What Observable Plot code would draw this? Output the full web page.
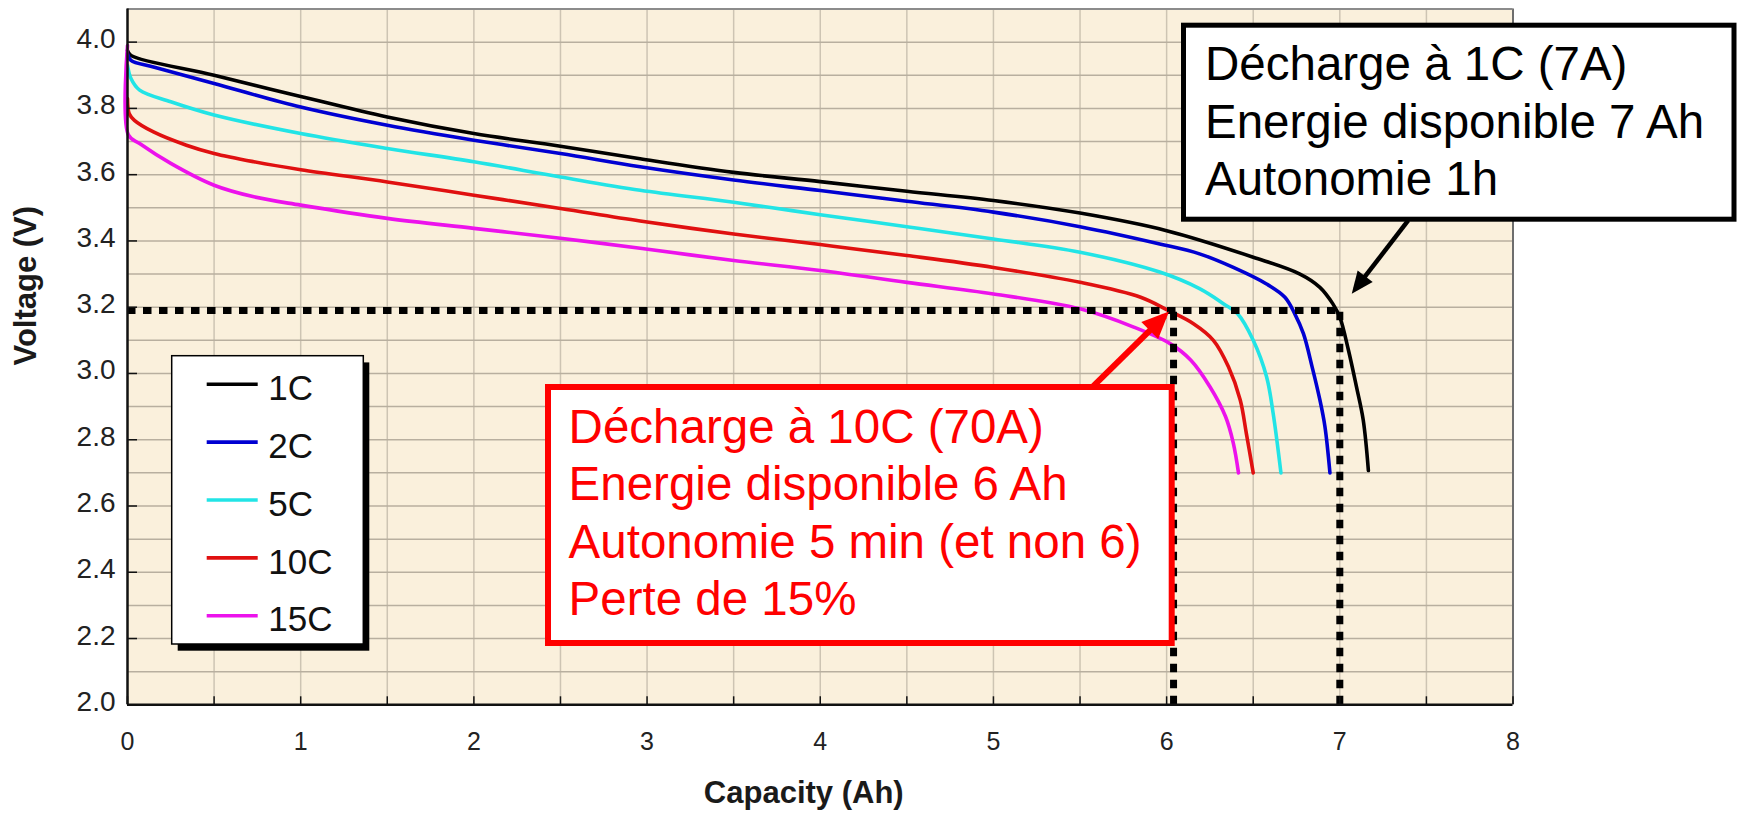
<!DOCTYPE html>
<html>
<head>
<meta charset="utf-8">
<script src="https://cdn.jsdelivr.net/npm/d3@7"></script>
<script src="https://cdn.jsdelivr.net/npm/@observablehq/plot@0.6"></script>
<style>
  html, body { margin: 0; padding: 0; background: #ffffff; }
  #wrap { position: relative; width: 1738px; height: 822px; overflow: hidden; font-family: "Liberation Sans", Arial, sans-serif; }
  #wrap svg.overlay { position: absolute; left: 0; top: 0; pointer-events: none; }
</style>
</head>
<body>
<div id="wrap"></div>
<script>
// ---------- DATA ----------
const seriesNames  = ["1C", "2C", "5C", "10C", "15C"];
const seriesColors = ["#000000", "#0000d2", "#22e4e6", "#e01010", "#ec12ec"];

const cap1C  = [0, 0.02, 0.5, 1.0, 1.5, 2.0, 2.5, 2.96, 3.5, 4.0, 4.5, 5.0, 5.5, 6.0, 6.5, 6.77, 6.885, 6.96, 7.0, 7.05, 7.096, 7.135, 7.165];
const volt1C = [3.975, 3.96, 3.90, 3.836, 3.774, 3.724, 3.686, 3.648, 3.607, 3.579, 3.55, 3.522, 3.484, 3.431, 3.351, 3.30, 3.26, 3.21, 3.17, 3.07, 2.96, 2.86, 2.707];

const cap2C  = [0, 0.02, 0.15, 0.5, 1.0, 1.5, 2.0, 2.5, 2.96, 3.5, 4.0, 4.5, 5.0, 5.5, 5.96, 6.19, 6.385, 6.577, 6.683, 6.74, 6.79, 6.84, 6.885, 6.914, 6.943];
const volt2C = [3.965, 3.945, 3.925, 3.875, 3.804, 3.749, 3.704, 3.664, 3.624, 3.584, 3.552, 3.52, 3.487, 3.443, 3.391, 3.361, 3.32, 3.27, 3.23, 3.18, 3.12, 3.02, 2.92, 2.84, 2.70];

const cap5C  = [0, 0.02, 0.07, 0.25, 0.5, 1.0, 1.5, 2.0, 2.5, 2.96, 3.5, 4.0, 4.5, 5.0, 5.5, 5.96, 6.19, 6.33, 6.41, 6.5, 6.577, 6.615, 6.66];
const volt5C = [3.93, 3.89, 3.855, 3.82, 3.78, 3.724, 3.679, 3.639, 3.593, 3.553, 3.517, 3.479, 3.443, 3.406, 3.366, 3.306, 3.256, 3.21, 3.18, 3.10, 2.99, 2.88, 2.70];

const cap10C  = [0, 0.01, 0.04, 0.15, 0.34, 0.5, 0.73, 1.0, 1.5, 2.0, 2.5, 2.96, 3.5, 4.0, 4.5, 5.0, 5.5, 5.85, 6.01, 6.155, 6.27, 6.357, 6.425, 6.46, 6.50];
const volt10C = [3.83, 3.784, 3.764, 3.729, 3.689, 3.664, 3.639, 3.615, 3.578, 3.538, 3.498, 3.46, 3.421, 3.389, 3.356, 3.32, 3.275, 3.23, 3.19, 3.15, 3.10, 3.02, 2.92, 2.82, 2.70];

const cap15C  = [0, 0.005, 0.07, 0.25, 0.5, 0.73, 1.0, 1.5, 2.0, 2.5, 2.96, 3.5, 4.0, 4.5, 5.0, 5.5, 5.81, 6.02, 6.14, 6.25, 6.34, 6.385, 6.415];
const volt15C = [3.99, 3.72, 3.694, 3.634, 3.568, 3.533, 3.508, 3.468, 3.438, 3.408, 3.378, 3.341, 3.311, 3.275, 3.24, 3.195, 3.14, 3.09, 3.04, 2.96, 2.87, 2.79, 2.70];

const xTickValues  = [0, 1, 2, 3, 4, 5, 6, 7, 8];
const xMinorValues = [0, 0.5, 1, 1.5, 2, 2.5, 3, 3.5, 4, 4.5, 5, 5.5, 6, 6.5, 7, 7.5, 8];
const yTickValues  = [2.0, 2.2, 2.4, 2.6, 2.8, 3.0, 3.2, 3.4, 3.6, 3.8, 4.0];
const yGridValues  = [2.1, 2.2, 2.3, 2.4, 2.5, 2.6, 2.7, 2.8, 2.9, 3.0, 3.1, 3.2, 3.3, 3.4, 3.5, 3.6, 3.7, 3.8, 3.9, 4.0];

const cutoffVoltage    = 3.19;
const cutoffCapacities = [6.04, 7.0];

// annotation arrows: [from capacity, from voltage] -> [to capacity, to voltage]
const arrow1CFrom  = [7.395, 3.462];
const arrow1CTo    = [7.09, 3.255];
const arrow10CFrom = [5.575, 2.961];
const arrow10CTo   = [5.989, 3.174];

const note1C  = ["Décharge à 1C (7A)", "Energie disponible 7 Ah", "Autonomie 1h"];
const note10C = ["Décharge à 10C (70A)", "Energie disponible 6 Ah", "Autonomie 5 min (et non 6)", "Perte de 15%"];

const xAxisTitle = "Capacity (Ah)";
const yAxisTitle = "Voltage (V)";

// ---------- build table ----------
const seriesCaps  = [cap1C, cap2C, cap5C, cap10C, cap15C];
const seriesVolts = [volt1C, volt2C, volt5C, volt10C, volt15C];
const curves = [];
seriesNames.forEach((name, i) => {
  seriesCaps[i].forEach((c, j) => curves.push({series: name, capacity: c, voltage: seriesVolts[i][j]}));
});
const arrowsBlack = [{x1: arrow1CFrom[0], y1: arrow1CFrom[1], x2: arrow1CTo[0], y2: arrow1CTo[1]}];
const arrowsRed   = [{x1: arrow10CFrom[0], y1: arrow10CFrom[1], x2: arrow10CTo[0], y2: arrow10CTo[1]}];

const FONT = "Liberation Sans, Arial, sans-serif";

const chart = Plot.plot({
  width: 1738,
  height: 822,
  marginLeft: 127,
  marginRight: 225.5,
  marginTop: 8.5,
  marginBottom: 117.7,
  style: {fontFamily: FONT, background: "transparent", overflow: "visible", color: "#1a1a1a"},
  x: {domain: [0, 8], label: null},
  y: {domain: [2, 4.1], label: null},
  color: {domain: seriesNames, range: seriesColors},
  marks: [
    Plot.frame({fill: "#faf0dc", stroke: null}),
    Plot.ruleX(xMinorValues.filter(v => v > 0 && v < 8), {stroke: "#cdc4b3", strokeWidth: 1.5}),
    Plot.ruleY(yGridValues, {stroke: "#b8af9f", strokeWidth: 1.5}),
    Plot.ruleX([8], {stroke: "#6e6e6e", strokeWidth: 2}),
    Plot.ruleY([4.1], {stroke: "#8c8c8c", strokeWidth: 2}),
    Plot.line(curves, {x: "capacity", y: "voltage", z: "series", stroke: "series", strokeWidth: 3.6, curve: "catmull-rom"}),
    Plot.ruleY([cutoffVoltage], {x1: 0, x2: d3.max(cutoffCapacities), stroke: "#000", strokeWidth: 7, strokeDasharray: "8.5,7.5"}),
    Plot.ruleX(cutoffCapacities, {y1: 2, y2: cutoffVoltage, stroke: "#000", strokeWidth: 7, strokeDasharray: "8.5,7.5"}),
    Plot.link(arrowsBlack, {x1: "x1", y1: "y1", x2: "x2", y2: "y2", stroke: "#000000", strokeWidth: 4.5, markerEnd: "arrow"}),
    Plot.link(arrowsRed, {x1: "x1", y1: "y1", x2: "x2", y2: "y2", stroke: "#ff0000", strokeWidth: 6, markerEnd: "arrow"}),
    Plot.ruleX([0], {stroke: "#111", strokeWidth: 2.5}),
    Plot.ruleY([2], {stroke: "#111", strokeWidth: 2.5}),
    Plot.axisY({ticks: yTickValues, tickSize: 10, dx: 10, tickFormat: () => "", stroke: "#111", strokeWidth: 1.5, label: null}),
    Plot.axisY({ticks: yTickValues, tickSize: 0, tickPadding: 12, tickFormat: d3.format(".1f"), fontSize: 28, fill: "#222", dy: -3, label: null}),
    Plot.axisX({ticks: xMinorValues, tickSize: 8, dy: -8, tickFormat: () => "", stroke: "#111", strokeWidth: 1.5, label: null}),
    Plot.axisX({ticks: xTickValues, tickSize: 0, tickPadding: 27, fontSize: 25, fill: "#222", label: null}),
    Plot.text([xAxisTitle], {text: d => d, frameAnchor: "bottom", dx: -16.5, dy: 97.7, fontSize: 31, fontWeight: "bold", fill: "#1a1a1a"}),
    Plot.text([yAxisTitle], {text: d => d, frameAnchor: "left", rotate: -90, dx: -101, dy: 8.6, fontSize: 31, fontWeight: "bold", fill: "#1a1a1a"})
  ]
});

// filled arrowheads
chart.querySelectorAll("marker").forEach(m => {
  const color = m.getAttribute("stroke");
  const big = color && color.toLowerCase().includes("ff0000");
  const L = big ? 27 : 22, W = big ? 12 : 9.5;
  m.setAttribute("markerUnits", "userSpaceOnUse");
  m.setAttribute("viewBox", "-40 -20 50 40");
  m.setAttribute("markerWidth", 50);
  m.setAttribute("markerHeight", 40);
  m.setAttribute("fill", color);
  m.setAttribute("stroke", "none");
  const p = m.querySelector("path");
  if (p) p.setAttribute("d", `M${-(L - 6)},${-W}L6,0L${-(L - 6)},${W}Z`);
});

const wrap = document.getElementById("wrap");
wrap.appendChild(chart);

// ---------- overlay: legend and annotation boxes ----------
const ns = "http://www.w3.org/2000/svg";
const ov = d3.create("svg").attr("class", "overlay").attr("xmlns", ns)
  .attr("width", 1738).attr("height", 822)
  .style("font-family", FONT);

// legend
const lg = ov.append("g");
lg.append("rect").attr("x", 177.7).attr("y", 362.4).attr("width", 191.6).attr("height", 288.3).attr("fill", "#000");
lg.append("rect").attr("x", 171.7).attr("y", 355.7).attr("width", 191.6).attr("height", 288.3).attr("fill", "#fff").attr("stroke", "#000").attr("stroke-width", 1.5);
seriesNames.forEach((name, i) => {
  const y = 384.3 + i * 57.85;
  lg.append("line").attr("x1", 206.7).attr("x2", 257.7).attr("y1", y).attr("y2", y)
    .attr("stroke", seriesColors[i]).attr("stroke-width", 3.6);
  lg.append("text").attr("x", 268.3).attr("y", y + 15.7).attr("font-size", 35).attr("fill", "#111").text(name);
});

// black annotation (1C)
const b1 = ov.append("g");
b1.append("rect").attr("x", 1183.5).attr("y", 25.2).attr("width", 550.5).attr("height", 194)
  .attr("fill", "#fff").attr("stroke", "#000").attr("stroke-width", 5);
note1C.forEach((t, i) => {
  b1.append("text").attr("x", 1205).attr("y", 80 + i * 57.5).attr("font-size", 47.5).attr("fill", "#000").text(t);
});

// red annotation (10C)
const b2 = ov.append("g");
b2.append("rect").attr("x", 548).attr("y", 387).attr("width", 623.7).attr("height", 256)
  .attr("fill", "#fff").attr("stroke", "#ff0000").attr("stroke-width", 6);
note10C.forEach((t, i) => {
  b2.append("text").attr("x", 568.6).attr("y", 442.7 + i * 57.45).attr("font-size", 47.5).attr("fill", "#ff0000").text(t);
});

wrap.appendChild(ov.node());
</script>
</body>
</html>
